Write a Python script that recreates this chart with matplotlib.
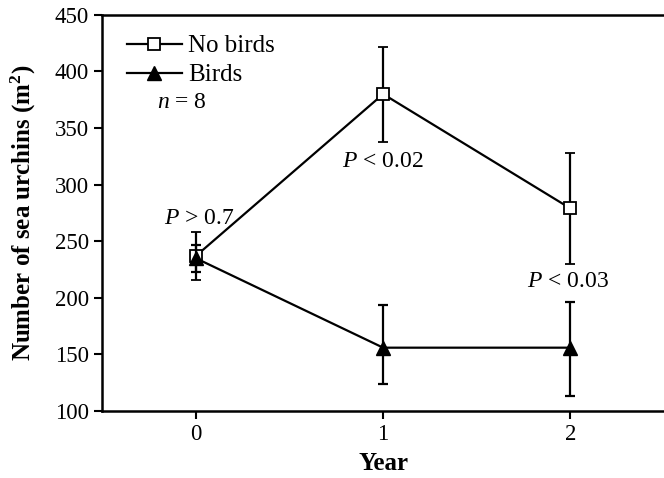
import numpy as np
import matplotlib
matplotlib.use("Agg")
import matplotlib.pyplot as plt

plt.rcParams['font.family'] = ['Liberation Serif', 'DejaVu Serif']
plt.rcParams['mathtext.fontset'] = 'custom'
plt.rcParams['mathtext.rm'] = 'Liberation Serif'
plt.rcParams['mathtext.it'] = 'Liberation Serif:italic'
plt.rcParams['mathtext.bf'] = 'Liberation Serif:bold'

years = [0, 1, 2]
no_birds = [237, 380, 279]
no_birds_err = [21, 42, 49]
birds = [235, 156, 156]
birds_err_lo = [12, 32, 43]
birds_err_hi = [12, 38, 40]

p_labels = ['$P$ > 0.7', '$P$ < 0.02', '$P$ < 0.03']
p_pos = [(0.02, 265), (1.0, 316), (1.99, 210)]

fig = plt.figure(figsize=(6.64, 4.78), dpi=100)
ax = fig.add_axes([0.154, 0.140, 0.846, 0.829])

ax.errorbar(years, no_birds, yerr=no_birds_err, color='black', lw=1.6,
            marker='s', ms=9, mfc='white', mec='black', mew=1.3,
            capsize=3.5, capthick=1.6, elinewidth=1.6, label='No birds', zorder=3)
ax.errorbar(years, birds, yerr=[birds_err_lo, birds_err_hi], color='black', lw=1.6,
            marker='^', ms=10, mfc='black', mec='black',
            capsize=3.5, capthick=1.6, elinewidth=1.6, label='Birds', zorder=4)

for txt, (x, y) in zip(p_labels, p_pos):
    ax.text(x, y, txt, ha='center', va='baseline', fontsize=17)

ax.text(0.142, 0.778, '$n$ = 8', transform=ax.transAxes, ha='center', va='center', fontsize=17)

ax.set_xlim(-0.5, 2.5)
ax.set_ylim(100, 450)
ax.set_xticks(years)
ax.set_yticks(np.arange(100, 451, 50))
ax.tick_params(labelsize=16.5, width=1.5, length=6, direction='out')
ax.spines['right'].set_visible(False)
for s in ['left', 'top', 'bottom']:
    ax.spines[s].set_linewidth(1.8)

ax.set_xlabel('Year', fontsize=18, fontweight='bold', labelpad=5)
ax.set_ylabel(r'Number of sea urchins (m$^\mathbf{2}$)', fontsize=18, fontweight='bold', labelpad=12)

handles, labels = ax.get_legend_handles_labels()
handles = [h[0] for h in handles]
ax.legend(handles, labels, loc='upper left', bbox_to_anchor=(0.008, 1.0), frameon=False, fontsize=18,
          handlelength=2.2, borderaxespad=0.4, labelspacing=0.26, handletextpad=0.25)

fig.savefig('out.png', dpi=100)
